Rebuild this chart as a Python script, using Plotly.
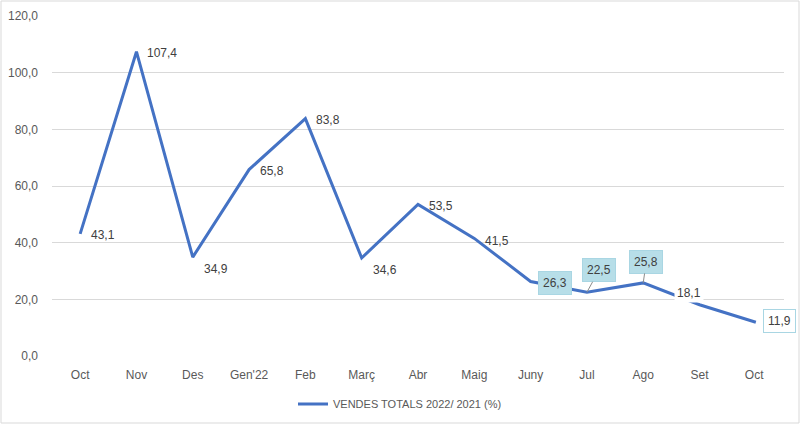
import plotly.graph_objects as go

categories = ["Oct", "Nov", "Des", "Gen'22", "Feb", "Març", "Abr", "Maig", "Juny", "Jul", "Ago", "Set", "Oct "]
values = [43.1, 107.4, 34.9, 65.8, 83.8, 34.6, 53.5, 41.5, 26.3, 22.5, 25.8, 18.1, 11.9]
series_name = "VENDES TOTALS 2022/ 2021 (%)"
y_ticks = [0, 20, 40, 60, 80, 100, 120]

W, H = 800, 424
ML, MR, MT, MB = 52, 16, 16, 68

line_color = "#4472C4"
label_color = "#404040"
axis_color = "#595959"
grid_color = "#D9D9D9"
box_fill = "#B7DEE8"
box_line = "#A9D6E3"

def fmt(v):
    return f"{v:.1f}".replace(".", ",")

fig = go.Figure()
fig.add_trace(go.Scatter(
    x=categories, y=values, mode="lines", name=series_name,
    line=dict(color=line_color, width=3), hoverinfo="skip",
))

styles = {
    8: dict(kind="box", xshift=7, yshift=-2),
    9: dict(kind="arrow", ax=12, ay=-22),
    10: dict(kind="arrow", ax=3, ay=-21),
    11: dict(kind="white", xshift=-11, yshift=12),
    12: dict(kind="wbox", xshift=7, yshift=1),
}
default_shift = {0: -1, 1: -1, 2: -12, 3: -1, 4: -1, 5: -12, 6: -2, 7: -3}

annotations = []
for i, (c, v) in enumerate(zip(categories, values)):
    st = styles.get(i)
    base = dict(x=c, y=v, xref="x", yref="y", text=fmt(v),
                font=dict(family="Liberation Sans, Arial", size=12, color=label_color))
    if st is None:
        annotations.append(dict(base, showarrow=False, xanchor="left", yanchor="middle",
                                xshift=9, yshift=default_shift.get(i, 0)))
    elif st["kind"] == "box":
        annotations.append(dict(base, showarrow=False, xanchor="left", yanchor="middle",
                                xshift=st["xshift"], yshift=st["yshift"],
                                bgcolor=box_fill, bordercolor=box_line, borderwidth=1, borderpad=4))
    elif st["kind"] == "arrow":
        annotations.append(dict(base, showarrow=True, arrowhead=0, arrowwidth=1,
                                arrowcolor="#8C8C8C", ax=st["ax"], ay=st["ay"], standoff=0,
                                bgcolor=box_fill, bordercolor=box_line, borderwidth=1, borderpad=4))
    elif st["kind"] == "white":
        annotations.append(dict(base, showarrow=False, xanchor="center", yanchor="middle",
                                xshift=st["xshift"], yshift=st["yshift"],
                                bgcolor="white", borderpad=2))
    elif st["kind"] == "wbox":
        annotations.append(dict(base, showarrow=False, xanchor="left", yanchor="middle",
                                xshift=st["xshift"], yshift=st["yshift"],
                                bgcolor="white", bordercolor=box_line, borderwidth=1, borderpad=4))

pw = W - ML - MR
ph = H - MT - MB
fig.update_layout(
    width=W, height=H,
    margin=dict(l=ML, r=MR, t=MT, b=MB, autoexpand=False),
    paper_bgcolor="white", plot_bgcolor="white",
    separators=",.",
    font=dict(family="Liberation Sans, Arial", size=12, color=axis_color),
    showlegend=True,
    legend=dict(orientation="h", xref="container", yref="container",
                x=0.5, xanchor="center", y=(H - 404) / H, yanchor="middle",
                font=dict(size=11, color=axis_color), itemwidth=30),
    xaxis=dict(type="category", range=[-0.5, len(categories) - 0.5], showgrid=False,
               showline=False, zeroline=False, ticks="", automargin=False,
               ticklabelstandoff=10, tickfont=dict(size=12, color=axis_color)),
    yaxis=dict(range=[0, 120], tickvals=y_ticks, tickformat=".1f", showgrid=True,
               gridcolor=grid_color, gridwidth=1, zeroline=False, showline=False, automargin=False,
               ticks="", ticklabelstandoff=13, tickfont=dict(size=12, color=axis_color)),
    annotations=annotations,
    shapes=[dict(type="rect", xref="paper", yref="paper",
                 x0=-(ML - 1) / pw, x1=1 + (MR - 1) / pw,
                 y0=-(MB - 1) / ph, y1=1 + (MT - 1) / ph,
                 line=dict(color=grid_color, width=1), fillcolor="rgba(0,0,0,0)", layer="below")],
)

fig.write_html("out.html", config={"displayModeBar": False},
               post_script="document.body.style.margin='0';document.body.style.overflow='hidden';")
